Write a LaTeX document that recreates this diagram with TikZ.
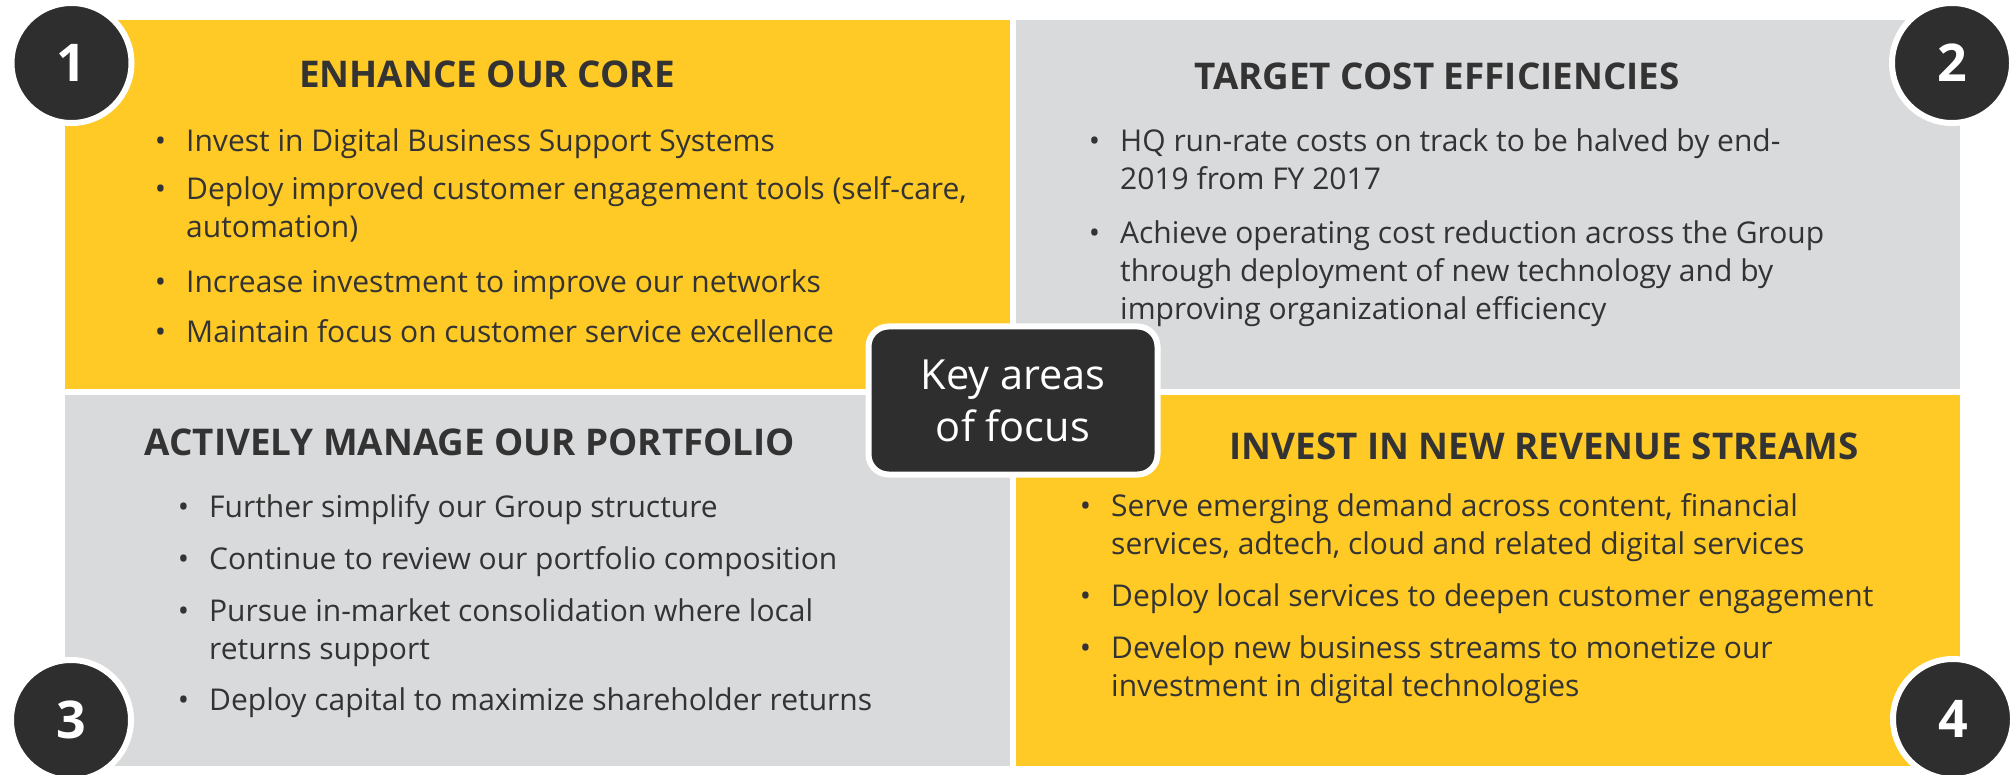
\documentclass[tikz,border=0pt]{standalone}
\usepackage{fontspec}
\setmainfont{Open Sans}
\usetikzlibrary{positioning}

\definecolor{amber}{HTML}{FFC926}
\definecolor{mist}{HTML}{D9DADC}
\definecolor{coal}{HTML}{2E2E2E}
\definecolor{ink}{HTML}{333333}

\tikzset{
  tile/.style={anchor=north west, inner sep=0pt, outer sep=0pt},
  badge/.style={circle, fill=coal, draw=white, line width=6pt,
    minimum size=120pt, inner sep=0pt, text=white,
    font=\fontsize{52}{52}\selectfont\bfseries},
  head/.style={anchor=base, inner sep=0pt, text=ink,
    font=\fontsize{36.8}{40}\selectfont\bfseries},
  % multi-line points sit on the baseline of their last line
  point/.style={anchor=base west, align=left, inner sep=0pt, text=ink,
    font=\fontsize{30}{38}\selectfont},
}
\newcommand{\bul}{\llap{\textbullet\hspace{20pt}}}

\begin{document}
\begin{tikzpicture}[x=1pt, y=-1pt]
  \useasboundingbox (0,0) rectangle (2011,775);

  % the four panels
  \node[tile, fill=amber, minimum width=945pt, minimum height=369pt] (core) at (65,20) {};
  \node[tile, fill=mist, minimum width=944pt, minimum height=369pt] (cost) at (1016,20) {};
  \node[tile, fill=mist, minimum width=945pt, minimum height=371pt] (portfolio) at (65,395) {};
  \node[tile, fill=amber, minimum width=944pt, minimum height=371pt] (revenue) at (1016,395) {};

  % panel 1
  \node[head] (coreHead) at (487,87.7) {ENHANCE OUR CORE};
  \node[point] (core1) at (186,151.7) {\bul Invest in Digital Business Support Systems};
  \node[point] (core2) at (186,237.7) {\bul Deploy improved customer engagement tools (self-care,\\automation)};
  \node[point] (core3) at (186,292.7) {\bul Increase investment to improve our networks};
  \node[point] (core4) at (186,343) {\bul Maintain focus on customer service excellence};

  % panel 2
  \node[head] (costHead) at (1437,90) {TARGET COST EFFICIENCIES};
  \node[point] (cost1) at (1120,190) {\bul HQ run-rate costs on track to be halved by end-\\2019 from FY 2017};
  \node[point] (cost2) at (1120,320) {\bul Achieve operating cost reduction across the Group\\through deployment of new technology and by\\improving organizational efficiency};

  % panel 3
  \node[head] (portfolioHead) at (470,456) {ACTIVELY MANAGE OUR PORTFOLIO};
  \node[point] (portfolio1) at (209,517.3) {\bul Further simplify our Group structure};
  \node[point] (portfolio2) at (209,569.3) {\bul Continue to review our portfolio composition};
  \node[point] (portfolio3) at (209,659.3) {\bul Pursue in-market consolidation where local\\returns support};
  \node[point] (portfolio4) at (209,710.7) {\bul Deploy capital to maximize shareholder returns};

  % panel 4
  \node[head] (revenueHead) at (1544,459) {INVEST IN NEW REVENUE STREAMS};
  \node[point] (revenue1) at (1111,554) {\bul Serve emerging demand across content, financial\\services, adtech, cloud and related digital services};
  \node[point] (revenue2) at (1111,606) {\bul Deploy local services to deepen customer engagement};
  \node[point] (revenue3) at (1111,696) {\bul Develop new business streams to monetize our\\investment in digital technologies};

  % centre box
  \node[fill=coal, draw=white, line width=6pt, rounded corners=20pt,
    minimum width=289pt, minimum height=148pt, inner sep=0pt, align=center,
    text=white, font=\fontsize{41.5}{52}\selectfont] (focus) at (1013,400.5) {Key areas\\of focus};

  % numbered badges
  \node[badge] (n1) at (71.5,63) {1};
  \node[badge] (n2) at (1952,63) {2};
  \node[badge] (n3) at (71,720) {3};
  \node[badge] (n4) at (1953,719) {4};
\end{tikzpicture}
\end{document}
